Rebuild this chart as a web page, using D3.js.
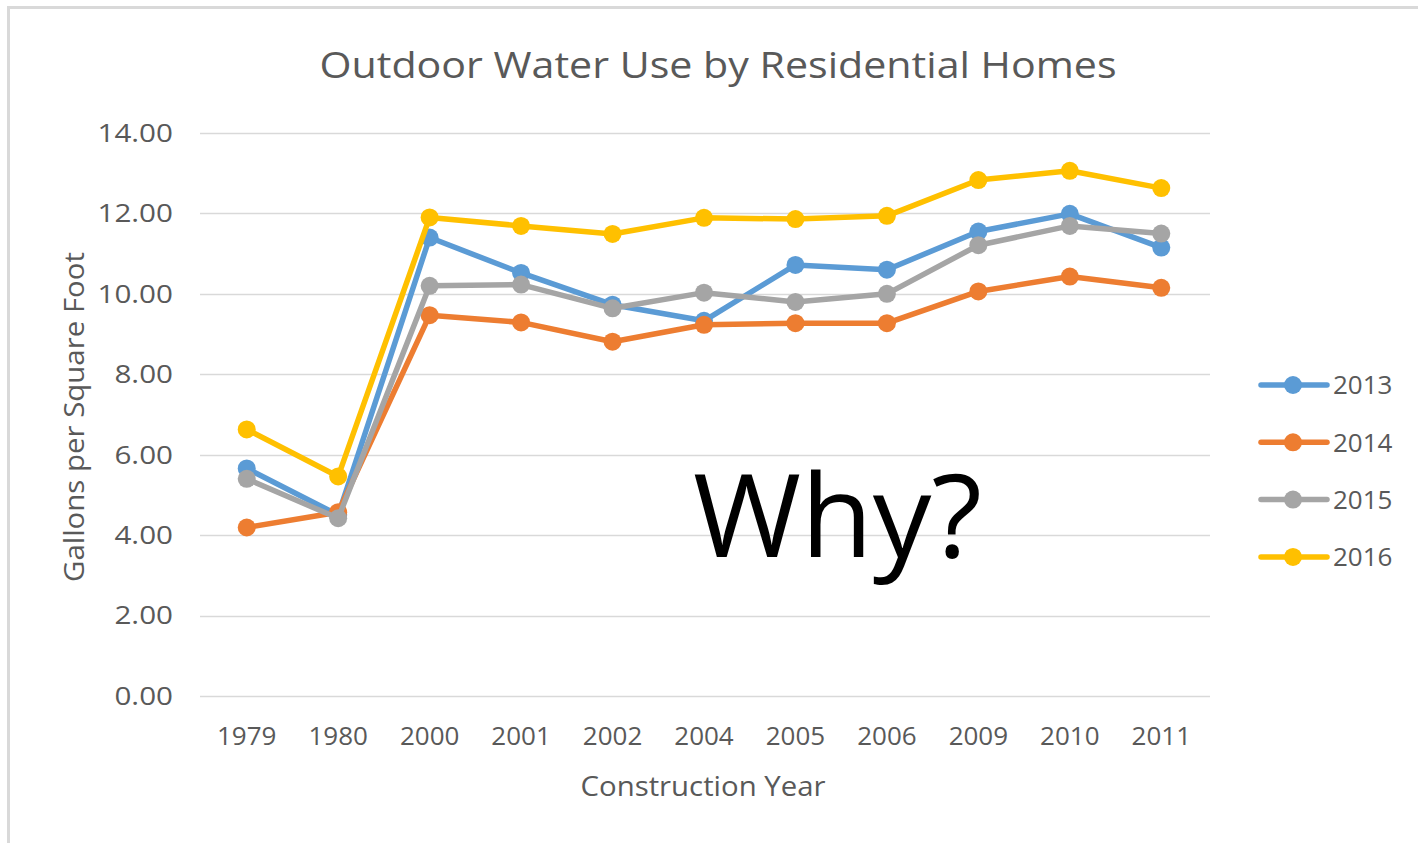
<!DOCTYPE html>
<html>
<head>
<meta charset="utf-8">
<script src="https://cdn.jsdelivr.net/npm/d3@7"></script>
<style>
  body { margin: 0; background: #fff; }
  text { font-family: "Open Sans", sans-serif; }
</style>
</head>
<body>
<svg id="my_svg"></svg>
<script>
const width = 1418;
const height = 843;

// data
const years = ['1979', '1980', '2000', '2001', '2002', '2004', '2005', '2006', '2009', '2010', '2011'];
const seriesNames = ['2013', '2014', '2015', '2016'];
const use2013 = [5.66, 4.50, 11.40, 10.52, 9.73, 9.33, 10.72, 10.60, 11.55, 11.99, 11.15];
const use2014 = [4.19, 4.57, 9.47, 9.29, 8.81, 9.23, 9.27, 9.27, 10.06, 10.43, 10.15];
const use2015 = [5.40, 4.42, 10.20, 10.23, 9.64, 10.03, 9.80, 10.00, 11.21, 11.69, 11.50];
const use2016 = [6.63, 5.46, 11.90, 11.69, 11.49, 11.89, 11.86, 11.94, 12.83, 13.06, 12.63];
const yTicks = [0, 2, 4, 6, 8, 10, 12, 14];

const seriesColors = ['#5b9bd5', '#ed7d31', '#a5a5a5', '#ffc000'];
const series = [use2013, use2014, use2015, use2016].map((values, i) => ({
    name: seriesNames[i],
    color: seriesColors[i],
    points: values.map((v, j) => ({ year: years[j], value: v }))
}));

const svg = d3.select('#my_svg')
    .attr('width', width)
    .attr('height', height);

// frame of the screenshot
svg.append('path')
    .attr('d', `M8.5,${height} V7.5 H${width}`)
    .attr('fill', 'none')
    .attr('stroke', '#d9d9d9')
    .attr('stroke-width', 3);

const x = d3.scaleBand()
    .domain(years)
    .range([201, 1207]);

const y = d3.scaleLinear()
    .domain([0, 14])
    .range([696, 133]);

const textColor = '#595959';

// gridlines
svg.append('g')
    .selectAll('line')
    .data(yTicks)
    .enter().append('line')
    .attr('x1', 200)
    .attr('x2', 1210)
    .attr('y1', d => Math.round(y(d)) + 0.5)
    .attr('y2', d => Math.round(y(d)) + 0.5)
    .attr('stroke', '#d9d9d9')
    .attr('stroke-width', 1.5);

// y axis (labels in the picture are a wider face, so stretch a bit)
const yAxis = svg.append('g')
    .attr('transform', 'translate(173,0)')
    .call(d3.axisLeft(y).tickValues(yTicks).tickFormat(d3.format('.2f')).tickSize(0).tickPadding(0));
yAxis.select('.domain').remove();
yAxis.selectAll('.tick text')
    .attr('fill', textColor)
    .attr('transform', 'scale(1.14,1)')
    .style('font-size', '26px')
    .style('font-family', '"Open Sans", sans-serif');

// x axis
const xAxis = svg.append('g')
    .attr('transform', 'translate(0,724)')
    .call(d3.axisBottom(x).tickSize(0));
xAxis.select('.domain').remove();
xAxis.selectAll('text')
    .attr('fill', textColor)
    .attr('dy', '0.71em')
    .style('font-size', '26px')
    .style('font-family', '"Open Sans", sans-serif');

// lines and markers
const line = d3.line()
    .x(d => x(d.year) + x.bandwidth() / 2)
    .y(d => y(d.value));

const seriesG = svg.append('g')
    .selectAll('g')
    .data(series)
    .enter().append('g');

seriesG.append('path')
    .attr('d', d => line(d.points))
    .attr('fill', 'none')
    .attr('stroke', d => d.color)
    .attr('stroke-width', 5.5)
    .attr('stroke-linejoin', 'round');

seriesG.selectAll('circle')
    .data(d => d.points.map(p => ({ ...p, color: d.color })))
    .enter().append('circle')
    .attr('cx', d => x(d.year) + x.bandwidth() / 2)
    .attr('cy', d => y(d.value))
    .attr('r', 9)
    .attr('fill', d => d.color);

// title
svg.append('text')
    .attr('x', 718)
    .attr('y', 78)
    .attr('text-anchor', 'middle')
    .attr('fill', textColor)
    .attr('textLength', 797)
    .attr('lengthAdjust', 'spacingAndGlyphs')
    .style('font-size', '37px')
    .text('Outdoor Water Use by Residential Homes');

// axis titles
svg.append('text')
    .attr('x', 703)
    .attr('y', 796)
    .attr('text-anchor', 'middle')
    .attr('fill', textColor)
    .attr('textLength', 245)
    .attr('lengthAdjust', 'spacingAndGlyphs')
    .style('font-size', '27px')
    .text('Construction Year');

svg.append('text')
    .attr('transform', 'translate(84,417) rotate(-90)')
    .attr('text-anchor', 'middle')
    .attr('fill', textColor)
    .attr('textLength', 330)
    .attr('lengthAdjust', 'spacingAndGlyphs')
    .style('font-size', '27px')
    .text('Gallons per Square Foot');

// legend
const legend = svg.append('g')
    .selectAll('g')
    .data(series)
    .enter().append('g')
    .attr('transform', (d, i) => `translate(1259,${385 + i * 57.3})`);

legend.append('line')
    .attr('x1', 2)
    .attr('x2', 68)
    .attr('stroke', d => d.color)
    .attr('stroke-width', 5.5)
    .attr('stroke-linecap', 'round');

legend.append('circle')
    .attr('cx', 34)
    .attr('r', 9)
    .attr('fill', d => d.color);

legend.append('text')
    .attr('x', 74)
    .attr('dy', '0.36em')
    .attr('fill', textColor)
    .style('font-size', '26px')
    .text(d => d.name);

// annotation
svg.append('text')
    .attr('x', 693)
    .attr('y', 557)
    .attr('fill', '#000')
    .attr('textLength', 289)
    .attr('lengthAdjust', 'spacingAndGlyphs')
    .style('font-size', '116px')
    .text('Why?');
</script>
</body>
</html>
